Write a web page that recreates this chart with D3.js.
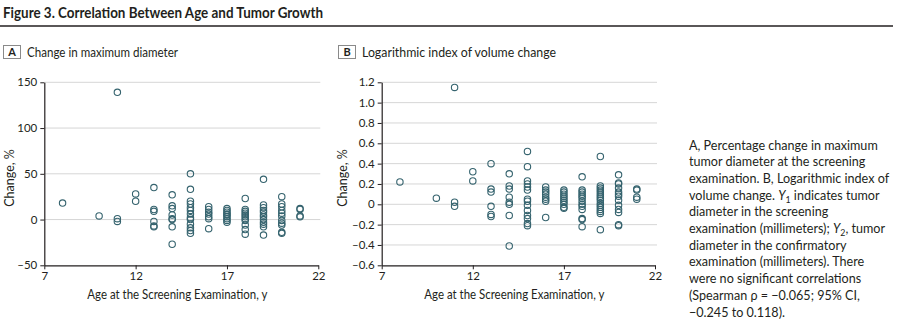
<!DOCTYPE html>
<html><head><meta charset="utf-8">
<script src="https://cdn.jsdelivr.net/npm/d3@7"></script>
<style>
body{margin:0;background:#fff;}
svg{display:block;font-family:Lato,"Open Sans",sans-serif;}
</style></head>
<body>
<script>
// ---- data ----
const ages = [8, 10, 11, 12, 13, 14, 15, 16, 17, 18, 19, 20, 21];
const diameterChange = [
  [18], [4], [139, 1, -2], [28, 20],
  [35, 11, 9, -2, -7, -8],
  [27, 15, 12, 5, 1, 0, -8, -27],
  [50, 33, 20, 17, 13, 10, 6, 2, 0, -5, -9, -12, -15],
  [14, 11, 8, 6, 3, 1, -10],
  [12, 10, 8, 6, 5, 3, 1, -1, -3],
  [23, 11, 9, 7, 5, 3, 1, -1, -6, -11, -16],
  [44, 16, 13, 10, 8, 5, 3, 0, -3, -5, -8, -17],
  [25, 17, 14, 10, 7, 4, -1, -4, -6, -14, -15],
  [12, 11, 4, 3]
];
const volumeIndex = [
  [0.22], [0.06], [1.15, 0.02, -0.02], [0.32, 0.23],
  [0.40, 0.15, 0.12, -0.02, -0.10, -0.12],
  [0.30, 0.18, 0.15, 0.07, 0.02, 0.00, -0.11, -0.41],
  [0.52, 0.37, 0.23, 0.20, 0.17, 0.14, 0.05, 0.03, -0.01, -0.06, -0.11, -0.14, -0.19, -0.21],
  [0.17, 0.14, 0.12, 0.10, 0.07, 0.05, 0.03, -0.13],
  [0.14, 0.12, 0.10, 0.08, 0.06, 0.04, 0.02, 0.00, -0.03, -0.04],
  [0.27, 0.14, 0.12, 0.10, 0.08, 0.06, 0.03, 0.00, -0.02, -0.05, -0.14, -0.15, -0.22],
  [0.47, 0.18, 0.16, 0.14, 0.12, 0.10, 0.08, 0.06, 0.04, 0.01, -0.01, -0.03, -0.05, -0.07, -0.09, -0.25],
  [0.29, 0.21, 0.20, 0.16, 0.12, 0.10, 0.08, 0.04, -0.01, -0.05, -0.08, -0.20, -0.21],
  [0.15, 0.14, 0.07, 0.05]
];
const xTicks = [7, 12, 17, 22];
const yTicksA = [-50, 0, 50, 100, 150];
const yTicksB = [-0.6, -0.4, -0.2, 0, 0.2, 0.4, 0.6, 0.8, 1.0, 1.2];
const titleText = "Figure 3. Correlation Between Age and Tumor Growth";
const panelTitles = ["Change in maximum diameter", "Logarithmic index of volume change"];
const xTitle = "Age at the Screening Examination, y";
const yTitle = "Change, %";

const W = 898, H = 321;
const ink = "#231f20", mark = "#35636e", grid = "#d6d6d6";
const svg = d3.select("body").append("svg").attr("width", W).attr("height", H);

// Title
svg.append("text").attr("x", 3).attr("y", 18).attr("font-size", 15.5).attr("font-weight", 700)
  .attr("fill", ink).attr("textLength", 320).attr("lengthAdjust", "spacingAndGlyphs").text(titleText);
svg.append("line").attr("x1", 0).attr("x2", 893).attr("y1", 26).attr("y2", 26)
  .attr("stroke", ink).attr("stroke-width", 1.5);

function fmtA(d){ return d < 0 ? "\u2013" + Math.abs(d) : String(d); }
function fmtB(d){ if (Math.abs(d) < 1e-9) return "0"; return (d < 0 ? "\u2013" : "") + Math.abs(d).toFixed(1); }

function panel(opt) {
  const x = d3.scaleLinear().domain([7, 22]).range([opt.x0, opt.x1]);
  const y = d3.scaleLinear().domain(opt.yDomain).range([265.3, 82.3]);
  const g = svg.append("g");
  // label box
  g.append("rect").attr("x", opt.boxX + 0.5).attr("y", 45.5).attr("width", 17).attr("height", 13)
    .attr("fill", "#fff").attr("stroke", "#8a8a8a").attr("stroke-width", 1);
  g.append("text").attr("x", opt.boxX + 9).attr("y", 56).attr("text-anchor", "middle")
    .attr("font-size", 11).attr("font-weight", 700).attr("fill", ink).text(opt.letter);
  g.append("text").attr("x", opt.boxX + 24).attr("y", 56.5).attr("font-size", 13)
    .attr("fill", ink).attr("textLength", opt.titleLen).attr("lengthAdjust", "spacingAndGlyphs").text(opt.title);
  // grid
  g.append("g").selectAll("line").data(opt.yTicks.filter(d => d !== opt.yDomain[0])).join("line")
    .attr("x1", x(7)).attr("x2", x(22) + 2).attr("y1", d => y(d)).attr("y2", d => y(d))
    .attr("stroke", grid).attr("stroke-width", 1);
  // axes
  const ax = g.append("g").attr("transform", `translate(0,${y(opt.yDomain[0])})`)
    .call(d3.axisBottom(x).tickValues(xTicks).tickSize(4).tickSizeOuter(0).tickPadding(3));
  const ay = g.append("g").attr("transform", `translate(${x(7)},0)`)
    .call(d3.axisLeft(y).tickValues(opt.yTicks).tickFormat(opt.fmt).tickSize(4).tickSizeOuter(0).tickPadding(3));
  [ax, ay].forEach(a => {
    a.select(".domain").attr("stroke", ink).attr("stroke-width", 1.2);
    a.selectAll(".tick line").attr("stroke", ink);
    a.selectAll("text").attr("font-size", 11.5).attr("fill", ink).attr("font-family", "Lato,'Open Sans',sans-serif");
  });
  // axis titles
  g.append("text").attr("x", (x(7) + x(22)) / 2 - 4).attr("y", 298.5).attr("text-anchor", "middle")
    .attr("font-size", 12.5).attr("fill", ink).attr("textLength", 180).attr("lengthAdjust", "spacingAndGlyphs").text(xTitle);
  g.append("text").attr("transform", `translate(${opt.yTitleX},178) rotate(-90)`)
    .attr("text-anchor", "middle").attr("font-size", 12.5).attr("fill", ink).text(yTitle);
  // points
  const pts = [];
  ages.forEach((a, i) => opt.values[i].forEach(v => pts.push({a, v})));
  g.append("g").selectAll("circle").data(pts).join("circle")
    .attr("cx", d => x(d.a)).attr("cy", d => y(d.v)).attr("r", 3.2)
    .attr("fill", "none").attr("stroke", mark).attr("stroke-width", 1.1);
}

panel({x0: 44.3, x1: 318.3, yDomain: [-50, 150], yTicks: yTicksA, fmt: fmtA, values: diameterChange,
  letter: "A", title: panelTitles[0], titleLen: 151, boxX: 3, yTitleX: 14});
panel({x0: 381.7, x1: 655, yDomain: [-0.6, 1.2], yTicks: yTicksB, fmt: fmtB, values: volumeIndex,
  letter: "B", title: panelTitles[1], titleLen: 194, boxX: 338, yTitleX: 347});

// caption
const capLines = [
  ["A, Percentage change in maximum"],
  ["tumor diameter at the screening"],
  ["examination. B, Logarithmic index of"],
  ["volume change. ", ["Y", "i"], ["1", "sub"], " indicates tumor"],
  ["diameter in the screening"],
  ["examination (millimeters); ", ["Y", "i"], ["2", "sub"], ", tumor"],
  ["diameter in the confirmatory"],
  ["examination (millimeters). There"],
  ["were no significant correlations"],
  ["(Spearman \u03c1 = \u22120.065; 95% CI,"],
  ["\u22120.245 to 0.118)."]
];
// fit caption font so the first line is as wide as in the reference (~190px)
const probe = svg.append("text").attr("font-size", 13).text(capLines[0][0]);
const probeW = probe.node().getComputedTextLength();
probe.remove();
const capSize = Math.min(14.5, 13 * 189 / probeW);
const cap = svg.append("text").attr("font-size", capSize).attr("fill", ink);
capLines.forEach((parts, li) => {
  const yy = 149.5 + li * 16.7;
  parts.forEach((p, pi) => {
    const t = cap.append("tspan");
    if (pi === 0) t.attr("x", 689).attr("y", yy);
    if (Array.isArray(p)) {
      if (p[1] === "i") t.attr("font-style", "italic").attr("y", yy).text(p[0]);
      else t.attr("font-size", capSize * 0.7).attr("dy", 3).text(p[0]);
    } else {
      if (pi > 0) t.attr("y", yy);
      t.text(p);
    }
  });
});
</script>
</body></html>
